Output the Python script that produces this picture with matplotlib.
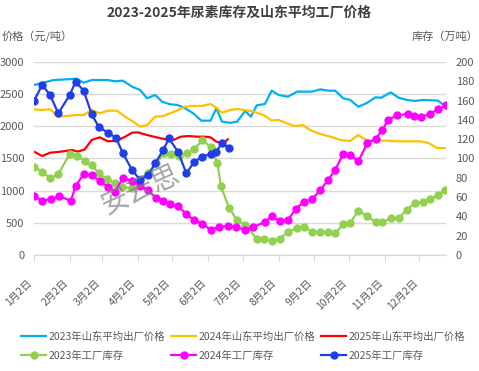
import matplotlib
matplotlib.use('Agg')
import matplotlib.pyplot as plt

plt.rcParams['font.family'] = ['Noto Sans CJK SC', 'DejaVu Sans']

# x values are days counted from Jan 2
month_days = [0, 31, 59, 90, 120, 151, 181, 212, 243, 273, 304, 334]
month_labels = ['1月2日', '2月2日', '3月2日', '4月2日', '5月2日', '6月2日',
                '7月2日', '8月2日', '9月2日', '10月2日', '11月2日', '12月2日']

# Shandong average factory price (yuan/t)
p23_day = [0, 8, 17, 28, 37, 43, 50, 64, 70, 77, 85, 92, 98, 105, 111, 118, 124, 131,
           138, 145, 153, 158, 163, 170, 176, 183, 188, 193, 200, 206, 212, 220, 228,
           241, 248, 255, 261, 268, 274, 281, 288, 296, 301, 309, 316, 323, 330, 337,
           350, 355]
p23_val = [2642, 2678, 2720, 2730, 2740, 2678, 2720, 2720, 2700, 2710, 2616, 2565, 2436,
           2487, 2383, 2342, 2333, 2280, 2202, 2088, 2088, 2280, 2072, 2055, 2072, 2238,
           2150, 2326, 2347, 2554, 2487, 2461, 2539, 2539, 2575, 2554, 2554, 2436, 2410,
           2305, 2358, 2450, 2445, 2528, 2445, 2410, 2394, 2410, 2400, 2331]

p24_day = [0, 7, 14, 21, 28, 36, 43, 50, 57, 64, 72, 79, 86, 92, 98, 105, 112, 118, 125,
           131, 138, 145, 153, 158, 163, 170, 176, 183, 190, 199, 206, 212, 219, 226,
           233, 239, 248, 257, 266, 274, 281, 288, 296, 306, 314, 323, 335, 342, 349, 356]
p24_val = [2265, 2254, 2265, 2150, 2160, 2176, 2176, 2254, 2202, 2243, 2243, 2150, 2072,
           1995, 2020, 2150, 2160, 2202, 2254, 2305, 2316, 2316, 2347, 2290, 2212, 2254,
           2270, 2254, 2228, 2176, 2090, 2098, 2047, 2005, 2020, 1943, 1880, 1839, 1785,
           1772, 1865, 1788, 1775, 1777, 1767, 1767, 1767, 1740, 1665, 1660]

p25_day = [0, 7, 14, 23, 33, 38, 44, 50, 57, 64, 72, 79, 85, 90, 98, 106, 114, 121, 127,
           134, 141, 148, 153, 158, 164, 168]
p25_val = [1606, 1539, 1590, 1606, 1632, 1606, 1642, 1788, 1829, 1767, 1777, 1839, 1901,
           1906, 1865, 1829, 1798, 1788, 1839, 1849, 1839, 1839, 1829, 1761, 1736, 1798]

# factory stock (10k t)
s23_day = [0, 7, 14, 21, 31, 37, 44, 50, 56, 63, 70, 76, 85, 92, 99, 106, 113, 119, 126,
           133, 139, 146, 153, 159, 162, 169, 176, 183, 193, 199, 206, 213, 220, 228, 234,
           241, 248, 255, 261, 268, 274, 281, 289, 296, 302, 309, 316, 323, 330, 337, 343,
           350, 356]
s23_val = [91.5, 86.3, 79.5, 83.6, 105, 102.6, 97.7, 93.3, 84.7, 78.4, 74.3, 70.8, 69.1,
           79, 85, 95, 106, 105, 103, 106, 110, 119, 112, 95, 71, 49, 36, 31, 17, 17, 15,
           17, 24, 28, 29, 24, 24, 24, 22.5, 32, 33, 46, 40, 34, 34, 38, 38, 47, 54, 55,
           58, 62, 67]

s24_day = [0, 7, 15, 22, 32, 36, 43, 50, 57, 64, 70, 77, 85, 92, 99, 106, 112, 118, 125,
           132, 139, 146, 153, 160, 168, 175, 183, 190, 200, 206, 213, 220, 227, 234, 241,
           248, 255, 261, 268, 274, 281, 289, 296, 302, 307, 315, 324, 329, 335, 343, 350,
           357]
s24_val = [61.1, 56.3, 58, 61.1, 56, 71.5, 83.6, 82.9, 76.7, 70.8, 65.6, 79.5, 76.7, 72,
           67, 58.8, 56, 53, 51, 42, 36, 32.5, 26, 29, 30, 29, 26, 29, 34, 40, 35.5, 36,
           48, 55, 58, 67, 78, 88, 105, 104, 97, 116, 120, 130, 140, 145, 146, 144, 143,
           146, 151, 155]

s25_day = [0, 7, 14, 21, 31, 36, 43, 50, 56, 64, 71, 77, 85, 92, 99, 105, 112, 117, 125,
           132, 139, 146, 153, 158, 163, 169]
s25_val = [159.6, 176.2, 165.8, 146.8, 165.8, 179.6, 170.3, 145.8, 133, 126.7, 121.6,
           105.4, 88.1, 77.7, 82.9, 95, 108.8, 120.9, 106.4, 84.7, 96.7, 101.9, 104.7,
           107, 116.4, 110.6]

TXT = '#595959'
GRID = '#d9d9d9'

fig = plt.figure(figsize=(4.79, 3.71), dpi=100)
ax = fig.add_axes([0.071, 0.3127, 0.86, 0.5202])
ax2 = ax.twinx()

l1, = ax.plot(p23_day, p23_val, color='#00B0F0', lw=1.6, label='2023年山东平均出厂价格')
l2, = ax.plot(p24_day, p24_val, color='#FFC000', lw=1.6, label='2024年山东平均出厂价格')
l3, = ax.plot(p25_day, p25_val, color='#FF0000', lw=1.6, label='2025年山东平均出厂价格')

mk = dict(marker='o', ms=5, lw=1.6)
l4, = ax2.plot(s23_day, s23_val, color='#92D050', label='2023年工厂库存', **mk)
l5, = ax2.plot(s24_day, s24_val, color='#FF00FF', label='2024年工厂库存', **mk)
l6, = ax2.plot(s25_day, s25_val, color='#1F3FE6', label='2025年工厂库存', **mk)

ax.set_xlim(0, 357)
ax.set_ylim(0, 3000)
ax2.set_ylim(0, 200)
ax.set_yticks(range(0, 3001, 500))
ax2.set_yticks(range(0, 201, 20))
ax.set_xticks(month_days)
ax.set_xticklabels(month_labels, rotation=45, ha='right', fontsize=7.5, color=TXT)

ax.yaxis.grid(True, color=GRID, lw=1)
ax.set_axisbelow(True)
for a in (ax, ax2):
    for s in ('top', 'left', 'right'):
        a.spines[s].set_visible(False)
    a.spines['bottom'].set_color(GRID)
ax.tick_params(axis='y', length=0, pad=7, labelsize=8, labelcolor=TXT)
ax2.tick_params(axis='y', length=0, pad=7, labelsize=8, labelcolor=TXT)
ax.tick_params(axis='x', length=4, color=GRID, pad=12)

# texts
fig.text(0.5, 0.965, '2023-2025年尿素库存及山东平均工厂价格', ha='center', va='center',
         fontsize=10, fontweight='bold', color='#404040')
fig.text(0.004, 0.9, '价格（元/吨）', ha='left', va='center', fontsize=8, color=TXT)
fig.text(0.998, 0.9, '库存（万吨）', ha='right', va='center', fontsize=8, color=TXT)
# watermark
fig.text(0.292, 0.49, '安云思', ha='center', va='center', fontsize=20, color='#7f7f7f',
         alpha=0.7, rotation=24, fontweight='light')

handles = [l1, l4, l2, l5, l3, l6]
fig.legend(handles, [h.get_label() for h in handles], loc='center',
           bbox_to_anchor=(0.508, 0.067), ncol=3, frameon=False, fontsize=7.5,
           labelcolor=TXT, handlelength=2.4, handletextpad=0.2, columnspacing=0.6,
           labelspacing=0.9)

plt.savefig('out.png', dpi=100)
plt.close()
